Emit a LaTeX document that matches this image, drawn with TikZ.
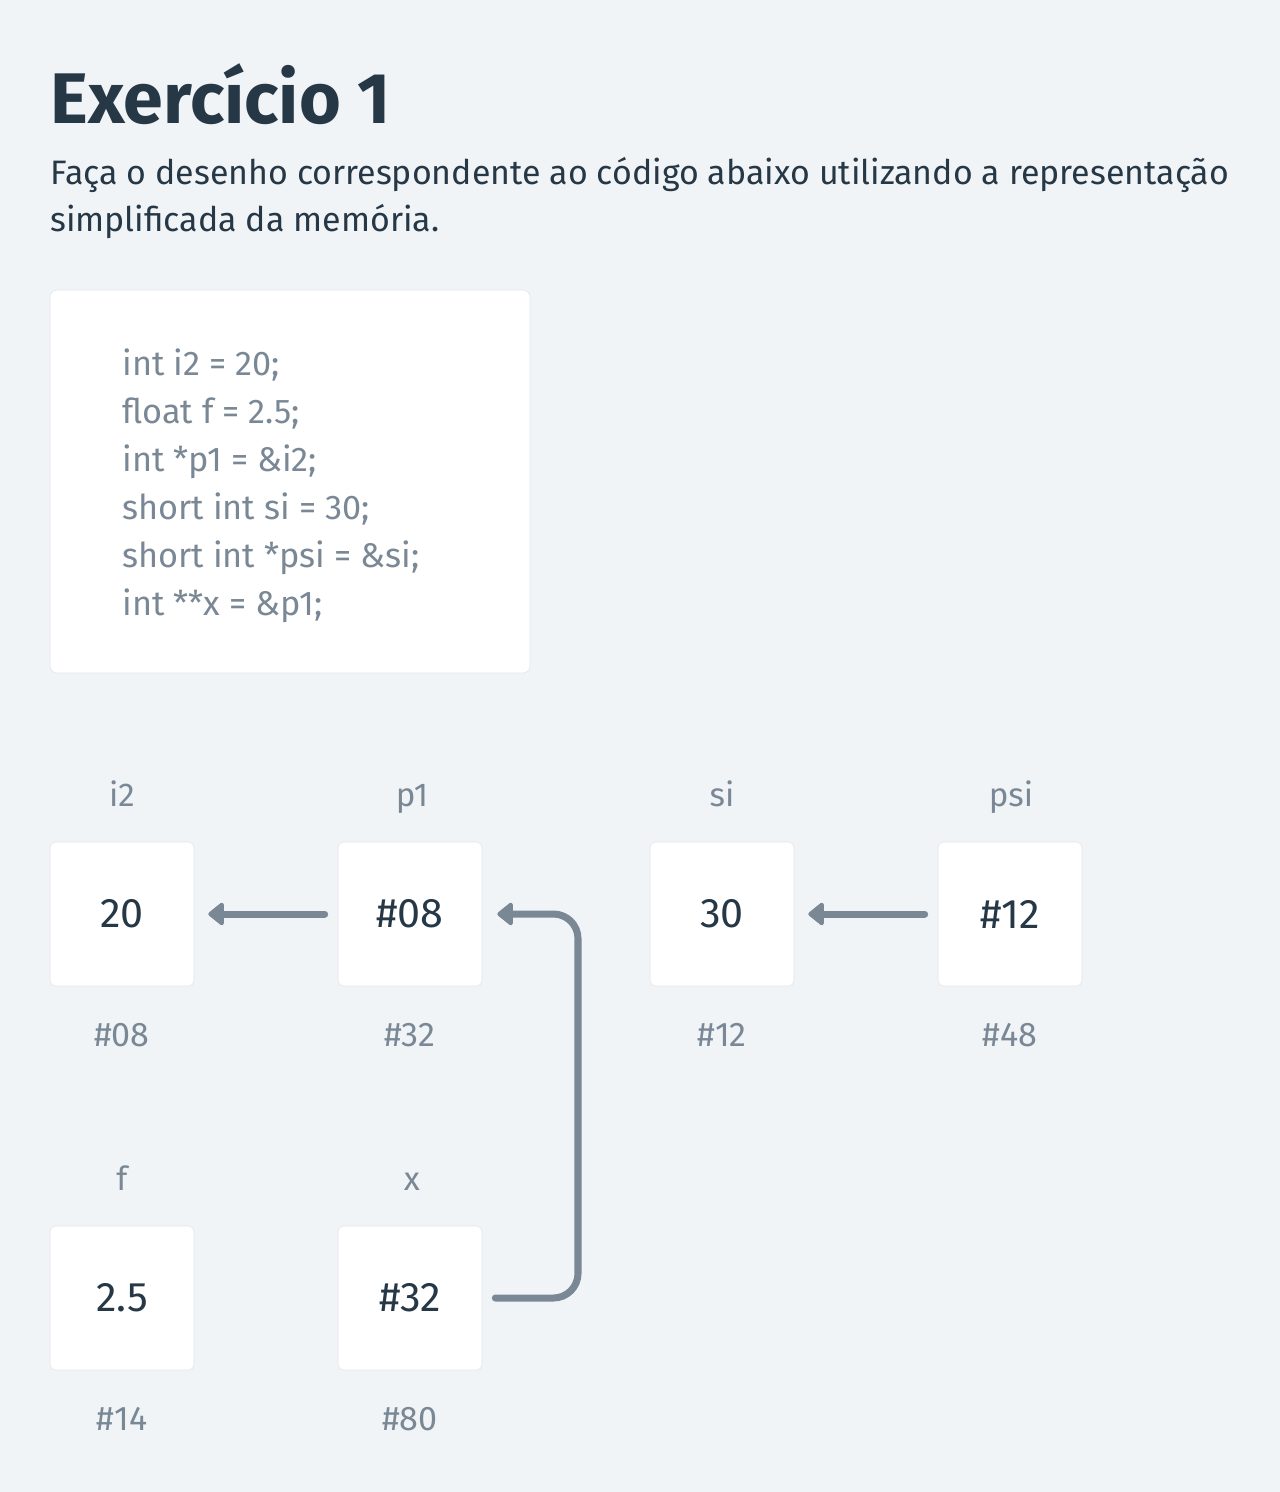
\documentclass[tikz,border=0pt]{standalone}
\usepackage{fontspec}
\setmainfont{Fira Sans}
\usetikzlibrary{arrows.meta}

\definecolor{bgpage}{HTML}{F0F4F7}
\definecolor{ink}{HTML}{263746}
\definecolor{muted}{HTML}{7A8896}
\definecolor{edge}{HTML}{E3E8EC}

\begin{document}
\begin{tikzpicture}[x=0.02cm, y=-0.02cm,
    cell/.style={fill=white, draw=edge, line width=0.4pt, rounded corners=3pt,
      minimum width=2.88cm, minimum height=2.88cm, inner sep=0pt,
      text=ink, font=\fontsize{23.5}{28}\selectfont},
    varname/.style={anchor=base, inner sep=0pt, text=muted, font=\fontsize{18.8}{22}\selectfont},
    addr/.style={anchor=base, inner sep=0pt, text=muted, font=\fontsize{19.4}{23}\selectfont},
    ptr/.style={draw=muted, line width=4pt, line cap=round, rounded corners=14pt,
      -{Triangle[round, length=0.34cm, width=0.52cm]}},
    codeline/.style={anchor=base west, inner sep=0pt, text=muted, font=\fontsize{19.5}{23}\selectfont}]

    % fundo e moldura
    \fill[bgpage] (0,0) rectangle (1280,1492);
    \useasboundingbox (0,0) rectangle (1280,1492);

    % enunciado
    \node[anchor=base west, inner sep=0pt, text=ink, font=\fontsize{40.8}{48}\selectfont\bfseries]
      (title) at (50,123) {Exercício 1};
    \node[anchor=base west, inner sep=0pt, text=ink, font=\fontsize{19.3}{23}\selectfont]
      (task1) at (50,184) {Faça o desenho correspondente ao código abaixo utilizando a representação};
    \node[anchor=base west, inner sep=0pt, text=ink, font=\fontsize{19.3}{23}\selectfont]
      (task2) at (50,231) {simplificada da memória.};

    % caixa do código
    \filldraw[fill=white, draw=edge, line width=0.4pt, rounded corners=4pt]
      (50,290) rectangle (530,673);
    \node[codeline] (c1) at (122,375) {int i2 = 20;};
    \node[codeline] (c2) at (122,423) {float f = 2.5;};
    \node[codeline] (c3) at (122,471) {int *p1 = \&i2;};
    \node[codeline] (c4) at (122,519) {short int si = 30;};
    \node[codeline] (c5) at (122,567) {short int *psi = \&si;};
    \node[codeline] (c6) at (122,615) {int **x = \&p1;};

    % células de memória
    \node[cell] (i2)  at (122,914)  {20};
    \node[cell] (p1)  at (410,914)  {\#08};
    \node[cell] (si)  at (722,914)  {30};
    \node[cell] (psi) at (1010,914) {\#12};
    \node[cell] (f)   at (122,1298) {2.5};
    \node[cell] (x)   at (410,1298) {\#32};

    % nomes das variáveis
    \node[varname] (i2name)  at (122,806)  {i2};
    \node[varname] (p1name)  at (412,806)  {p1};
    \node[varname] (siname)  at (722,806)  {si};
    \node[varname] (psiname) at (1011,806) {psi};
    \node[varname] (fname)   at (122,1190) {f};
    \node[varname] (xname)   at (412,1190) {x};

    % endereços
    \node[addr] (i2addr)  at (122,1046)  {\#08};
    \node[addr] (p1addr)  at (410,1046)  {\#32};
    \node[addr] (siaddr)  at (722,1046)  {\#12};
    \node[addr] (psiaddr) at (1010,1046) {\#48};
    \node[addr] (faddr)   at (122,1430)  {\#14};
    \node[addr] (xaddr)   at (410,1430)  {\#80};

    % ponteiros
    \draw[ptr] ([xshift=-0.26cm]p1.west) -- ([xshift=0.28cm]i2.east);
    \draw[ptr] ([xshift=-0.26cm]psi.west) -- ([xshift=0.28cm]si.east);
    \draw[ptr] ([xshift=0.26cm]x.east) -- (578,1298) -- (578,914) -- ([xshift=0.3cm]p1.east);

\end{tikzpicture}
\end{document}
